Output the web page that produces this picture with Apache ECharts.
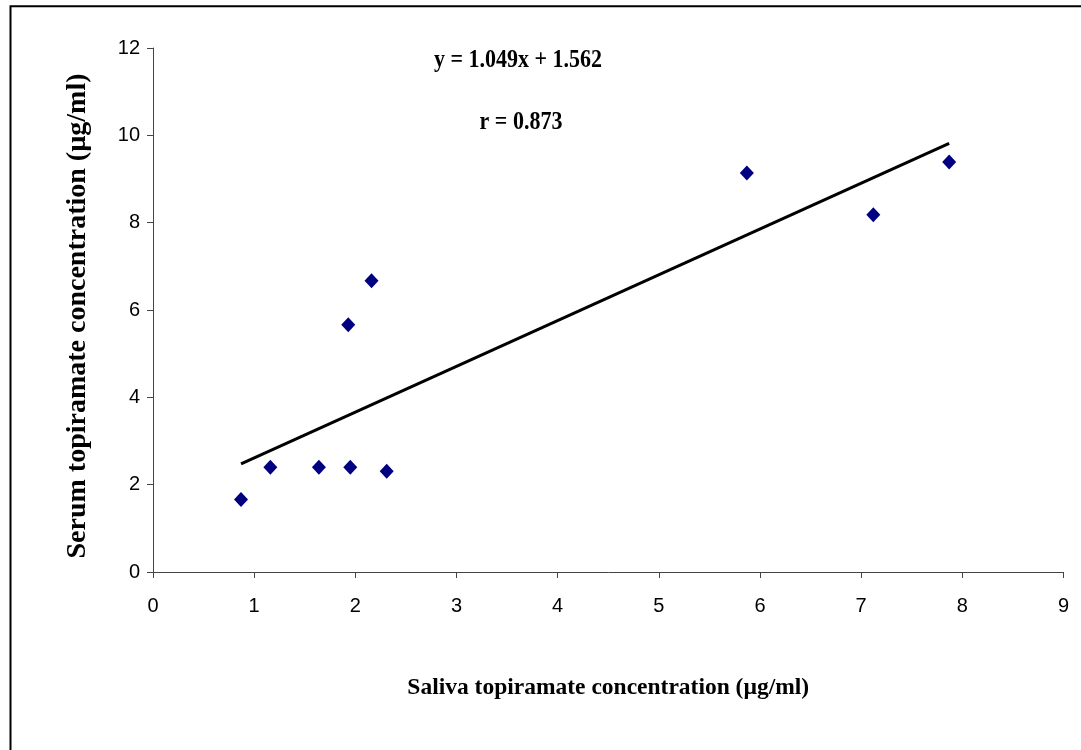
<!DOCTYPE html>
<html>
<head>
<meta charset="utf-8">
<script src="https://cdn.jsdelivr.net/npm/echarts@6/dist/echarts.min.js"></script>
<style>
  html, body { margin: 0; padding: 0; background: #fff; }
  #chart { width: 1081px; height: 750px; }
</style>
</head>
<body>
<div id="chart"></div>
<script>
// Paired topiramate concentrations (µg/ml)
const saliva = [0.87, 1.16, 1.64, 1.95, 2.31, 1.93, 2.16, 5.87, 7.12, 7.87];
const serum  = [1.66, 2.40, 2.40, 2.40, 2.31, 5.66, 6.67, 9.14, 8.18, 9.39];

// Regression line reported on the chart
const slope = 1.049;
const intercept = 1.562;
const rValue = 0.873;

const xTicks = [0, 1, 2, 3, 4, 5, 6, 7, 8, 9];
const yTicks = [0, 2, 4, 6, 8, 10, 12];

const xTitle = 'Saliva topiramate concentration (µg/ml)';
const yTitle = 'Serum topiramate concentration (µg/ml)';
const eqText = 'y = ' + slope.toFixed(3) + 'x + ' + intercept.toFixed(3);
const rText = 'r = ' + rValue.toFixed(3);

const points = saliva.map((x, i) => [x, serum[i]]);
const xMin = Math.min(...saliva);
const xMax = Math.max(...saliva);
const fitLine = [[xMin, slope * xMin + intercept], [xMax, slope * xMax + intercept]];

const chart = echarts.init(document.getElementById('chart'), null, { renderer: 'canvas' });

const serifBold = '"Liberation Serif", "Times New Roman", serif';

const axisCommon = {
  axisLine: { show: true, lineStyle: { color: '#444', width: 1 } },
  axisTick: { show: true, inside: false, length: 6, lineStyle: { color: '#444' } },
  splitLine: { show: false },
  axisLabel: { color: '#000', fontFamily: 'Liberation Sans, Arial', fontSize: 20 }
};

chart.setOption({
  animation: false,
  backgroundColor: '#fff',
  grid: { left: 153, right: 17.5, top: 48, bottom: 178, containLabel: false },
  xAxis: Object.assign({}, axisCommon, {
    type: 'value',
    min: xTicks[0],
    max: xTicks[xTicks.length - 1],
    interval: 1,
    axisLabel: Object.assign({}, axisCommon.axisLabel, { margin: 24 }),
    name: xTitle,
    nameLocation: 'middle',
    nameGap: 104,
    nameTextStyle: { fontFamily: serifBold, fontWeight: 'bold', fontSize: 23.5, color: '#000' }
  }),
  yAxis: Object.assign({}, axisCommon, {
    type: 'value',
    min: yTicks[0],
    max: yTicks[yTicks.length - 1],
    interval: 2,
    axisLabel: Object.assign({}, axisCommon.axisLabel, { margin: 13 }),
    name: yTitle,
    nameLocation: 'middle',
    nameRotate: 90,
    nameGap: 61,
    nameTextStyle: {
      fontFamily: serifBold, fontWeight: 'bold', fontSize: 28, color: '#000',
      padding: [0, 12, 0, 0]
    }
  }),
  graphic: [
    {
      type: 'rect',
      silent: true,
      shape: { x: 10.5, y: 6.3, width: 1200, height: 1000 },
      style: { fill: 'none', stroke: '#000', lineWidth: 2 }
    },
    {
      type: 'text',
      x: 518, y: 60, scaleY: 1.15,
      style: {
        text: eqText,
        font: 'bold 22px ' + serifBold,
        fill: '#000', textAlign: 'center', textVerticalAlign: 'middle'
      }
    },
    {
      type: 'text',
      x: 521, y: 122, scaleY: 1.15,
      style: {
        text: rText,
        font: 'bold 22px ' + serifBold,
        fill: '#000', textAlign: 'center', textVerticalAlign: 'middle'
      }
    }
  ],
  series: [
    {
      type: 'line',
      data: fitLine,
      symbol: 'none',
      lineStyle: { color: '#000', width: 3 },
      z: 2
    },
    {
      type: 'scatter',
      data: points,
      symbol: 'diamond',
      symbolSize: [14, 15],
      itemStyle: { color: '#000080', opacity: 1 },
      z: 3
    }
  ]
});
</script>
</body>
</html>
